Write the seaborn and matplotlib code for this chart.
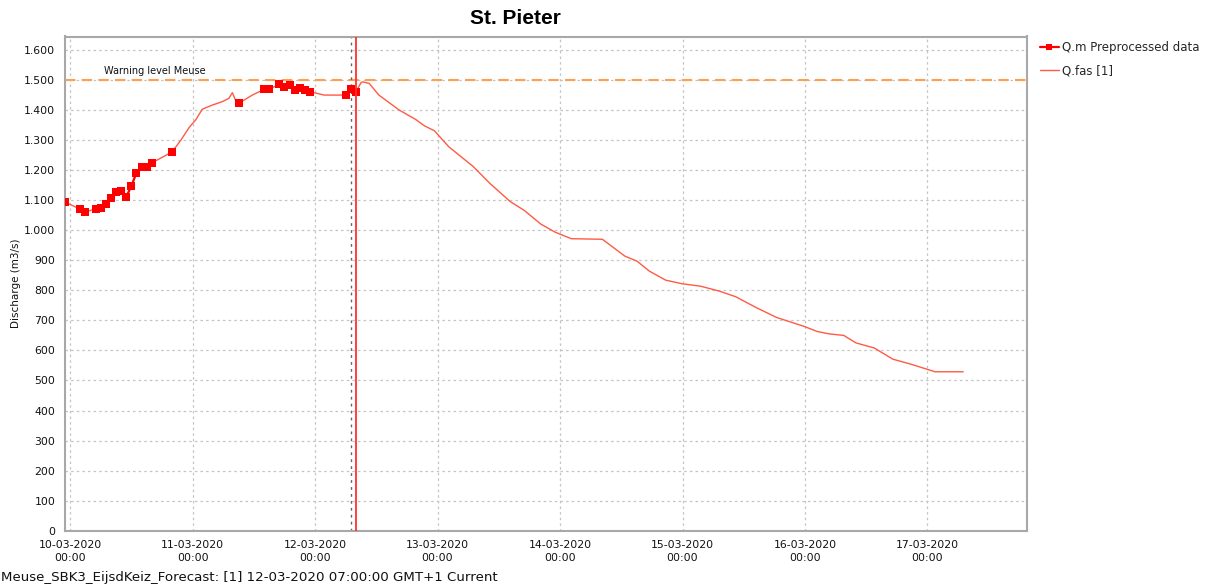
import numpy as np
import pandas as pd
import matplotlib
matplotlib.use("Agg")
import matplotlib.pyplot as plt
import matplotlib.dates as mdates
from matplotlib.ticker import FuncFormatter, MultipleLocator
from matplotlib.lines import Line2D
import seaborn as sns

# ---------------- data ----------------
BASE = "2020-03-10 00:00"
TITLE = "St. Pieter"
YLABEL = "Discharge (m3/s)"
FOOTER = "Meuse_SBK3_EijsdKeiz_Forecast: [1] 12-03-2020 07:00:00 GMT+1 Current"
WARNING_LABEL = "Warning level Meuse"
WARNING_LEVEL = 1500
CURRENT_TIME = "2020-03-12 07:00"
FORECAST_T0 = "2020-03-12 08:00"
SERIES_LABELS = ["Q.m Preprocessed data", "Q.fas [1]"]

# observed (Q.m) : hours after BASE, values, segment id (consecutive hours)
qm_hours = [-1, 2, 3, 5, 6, 7, 8, 9, 10, 11, 12, 13, 14, 15, 16, 20, 33, 38, 39,
            41, 42, 43, 44, 45, 46, 47, 54, 55, 56]
qm_values = [1094, 1070, 1061, 1070, 1074, 1089, 1106, 1126, 1130, 1111, 1147,
             1191, 1209, 1209, 1224, 1261, 1422, 1469, 1469, 1487, 1478, 1482,
             1467, 1474, 1467, 1461, 1450, 1469, 1461]
qm_segment = [0, 1, 1, 2, 2, 2, 2, 2, 2, 2, 2, 2, 2, 2, 2, 3, 4, 5, 5,
              6, 6, 6, 6, 6, 6, 6, 7, 7, 7]

# simulated / forecast (Q.fas [1])
qfas_hours = [-1, 2, 3, 5, 6, 7, 8, 9, 10, 11, 12, 13, 14, 15, 16, 20, 21.7, 23.4,
              24.6, 25.9, 27.9, 29.8, 31.1, 31.8, 32.4, 33, 35.7, 38, 39, 41, 42,
              43, 44, 45, 46, 47, 49.8, 51.4, 54, 55, 56, 57, 57.3, 58.6, 60.5,
              64.5, 67.7, 69.4, 71.4, 74.2, 76.6, 79, 82.2, 86.2, 89, 92.2, 95,
              98.2, 104.3, 108.7, 111.1, 113.5, 116.7, 119.9, 123.5, 127.1, 130.4,
              134.4, 138.4, 144, 146.4, 148.8, 151.6, 154, 157.6, 161.2, 164.6,
              168, 169.5, 175]
qfas_values = [1094, 1070, 1062, 1070, 1074, 1089, 1106, 1126, 1130, 1113, 1147,
               1191, 1209, 1209, 1224, 1261, 1300, 1344, 1367, 1403, 1417, 1428,
               1439, 1458, 1433, 1422, 1450, 1469, 1469, 1487, 1478, 1482, 1467,
               1474, 1467, 1461, 1450, 1450, 1450, 1469, 1461, 1491, 1494, 1489,
               1450, 1400, 1369, 1348, 1331, 1278, 1245, 1212, 1157, 1096, 1066,
               1021, 994, 972, 970, 914, 897, 864, 834, 822, 814, 798, 779, 743,
               710, 679, 663, 655, 650, 625, 608, 571, 555, 537, 529, 529]

x_start_hours = -1
x_end_hours = 187.5
y_max = 1645
tick_days = ["2020-03-10", "2020-03-11", "2020-03-12", "2020-03-13",
             "2020-03-14", "2020-03-15", "2020-03-16", "2020-03-17"]

# ---------------- frames ----------------
base = pd.Timestamp(BASE)
qm = pd.DataFrame({"time": base + pd.to_timedelta(qm_hours, unit="h"),
                   "value": qm_values, "seg": qm_segment})
qfas = pd.DataFrame({"time": base + pd.to_timedelta(qfas_hours, unit="h"),
                     "value": qfas_values})

# ---------------- figure ----------------
sns.set_style("white")
plt.rcParams["font.family"] = ["DejaVu Sans"]

W, H = 1210, 588
fig = plt.figure(figsize=(W / 100, H / 100), dpi=100)
ax = fig.add_axes([65 / W, 1 - 530.7 / H, (1027 - 65) / W, (530.7 - 36.5) / H])

fas_color = "#FF5A45"
qm_color = "#FF0000"

sns.lineplot(data=qfas, x="time", y="value", ax=ax, color=fas_color,
             linewidth=1.0, estimator=None, sort=False, zorder=3)
sns.lineplot(data=qm, x="time", y="value", units="seg", ax=ax, color=qm_color,
             linewidth=1.6, estimator=None, sort=False, marker="s",
             markersize=5.2, markeredgewidth=0, zorder=4)

ax.axhline(WARNING_LEVEL, color="#FFA050", linewidth=1.5,
           linestyle=(0, (5, 3)), zorder=2)
ax.annotate(WARNING_LABEL, xy=(base + pd.Timedelta(hours=6.7), WARNING_LEVEL),
            xytext=(0, 3), textcoords="offset points", fontsize=7,
            color="#111111", va="bottom", ha="left")
ax.axvline(pd.Timestamp(CURRENT_TIME), color="#666666", linewidth=1.0,
           linestyle=(0, (2, 3)), zorder=2)
ax.axvline(pd.Timestamp(FORECAST_T0), color="#FF3030", linewidth=1.3, zorder=5)

ax.set_xlim(base + pd.Timedelta(hours=x_start_hours),
            base + pd.Timedelta(hours=x_end_hours))
ax.set_ylim(0, y_max)

ax.set_xticks([pd.Timestamp(d) for d in tick_days])
ax.xaxis.set_major_formatter(mdates.DateFormatter("%d-%m-%Y\n%H:%M"))
ax.yaxis.set_major_locator(MultipleLocator(100))
ax.yaxis.set_major_formatter(FuncFormatter(lambda v, p: f"{v:,.0f}".replace(",", ".")))

for lab in ax.get_xticklabels():
    lab.set_linespacing(1.35)
ax.tick_params(axis="both", which="major", labelsize=7.8, labelcolor="#111111",
               length=4, width=1, direction="out", pad=3, color="#666666")

ax.grid(True, color="#C4C4C4", linestyle=(0, (2, 2.5)), linewidth=0.9)
ax.set_axisbelow(True)
for s in ax.spines.values():
    s.set_color("#A8A8A8")
    s.set_linewidth(1.5)
    s.set_visible(True)

ax.set_xlabel("")
ax.set_ylabel(YLABEL, fontsize=7.5, color="#111111")
ax.yaxis.set_label_coords(-0.046, 0.5)

fig.text(515 / W, 1 - 18 / H, TITLE, ha="center", va="center",
         fontsize=15, fontweight="bold", color="black",
         family=["Liberation Sans", "DejaVu Sans"])
fig.text(1 / W, 1 - 577 / H, FOOTER, ha="left", va="center", fontsize=9.6,
         color="#111111")

handles = [Line2D([], [], color=qm_color, linewidth=1.6, marker="s",
                  markersize=5, markeredgewidth=0),
           Line2D([], [], color=fas_color, linewidth=1.0)]
fig.legend(handles, SERIES_LABELS, loc="upper left",
           bbox_to_anchor=(1040 / W, 1 - 41 / H), frameon=False,
           fontsize=8.5, handlelength=1.6, handletextpad=0.3, labelspacing=0.85,
           borderaxespad=0, borderpad=0)

fig.savefig("out.png", dpi=100)
